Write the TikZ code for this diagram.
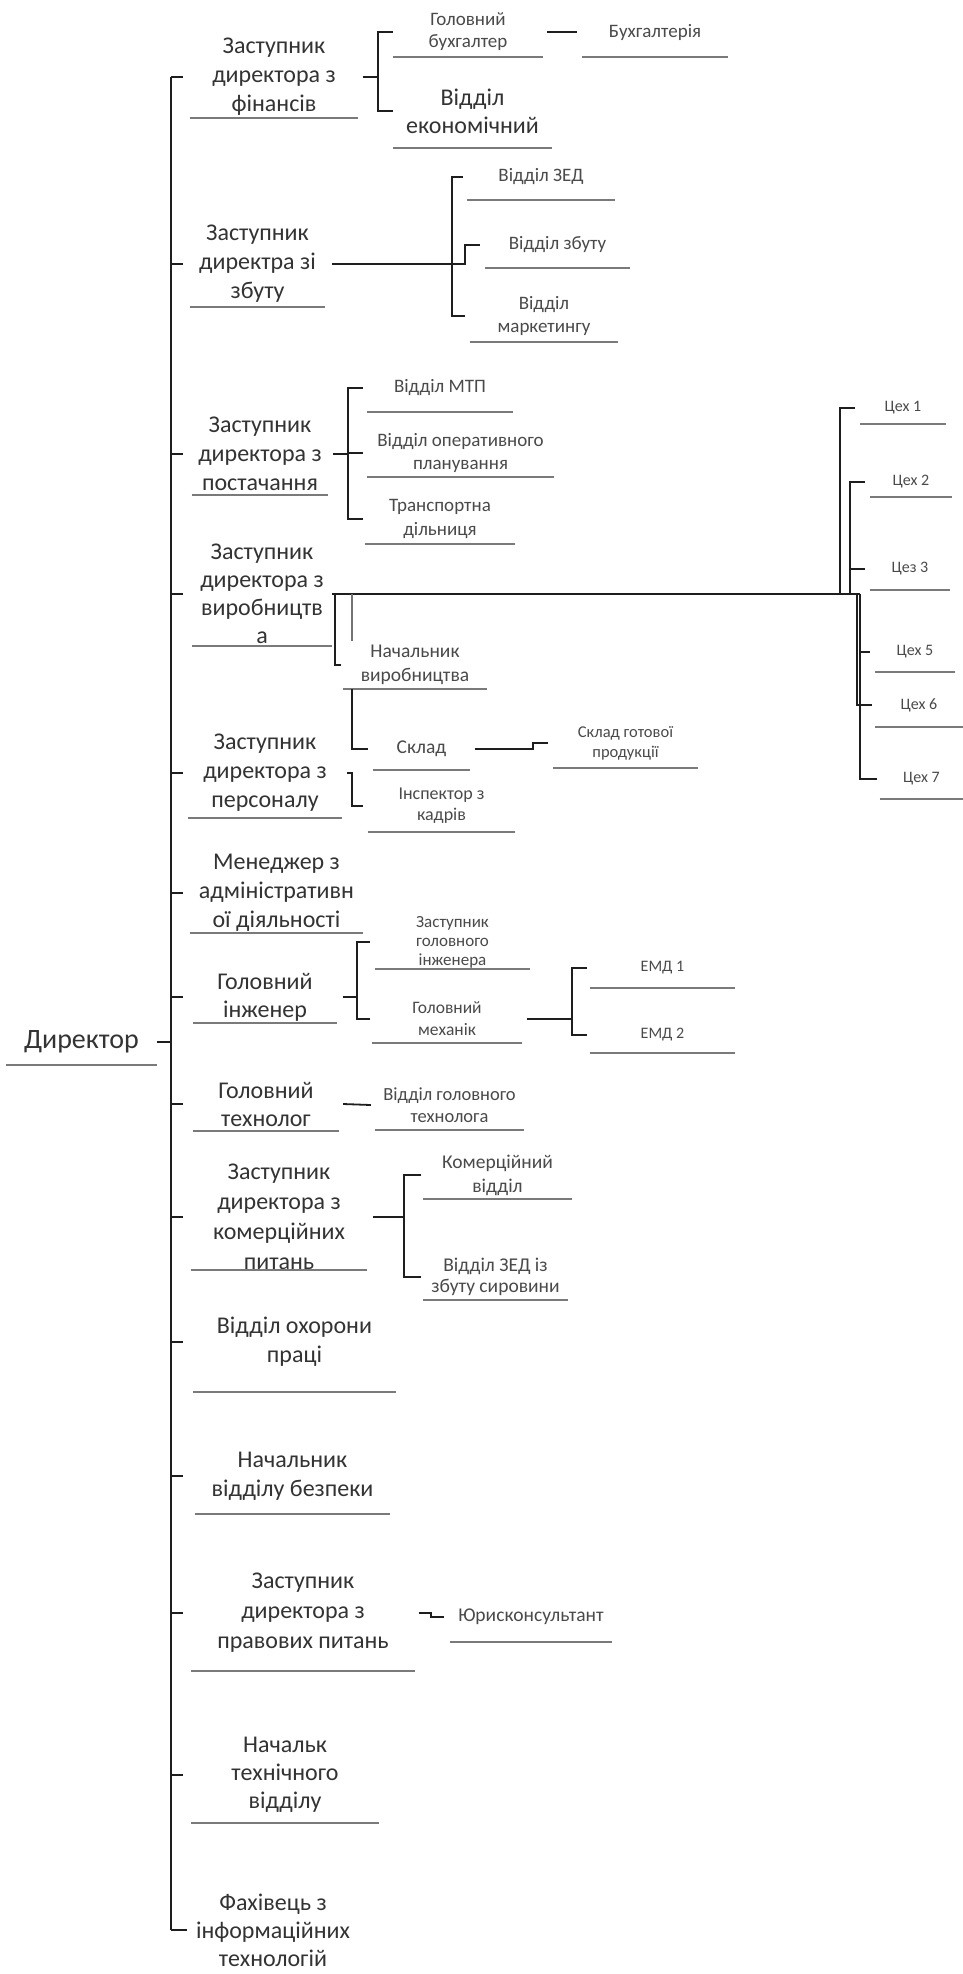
\documentclass[tikz,border=0pt]{standalone}
\usepackage{fontspec}
\setmainfont{Carlito}
\usetikzlibrary{calc}
\definecolor{txt}{HTML}{333333}
\definecolor{txtb}{HTML}{4A4A4A}
\definecolor{lin}{HTML}{1E1E1E}
\definecolor{ulc}{HTML}{7A7A7A}
\newcommand\fsz[2]{\fontsize{#1}{#2}\selectfont}
\newcommand\bxn[7]{\node[bx,font=#6,minimum width=#4,minimum height=#5] (#1) at (#2,#3) {#7};}
\newcommand\bxm[7]{\node[bx,text=txtb,font=#6,minimum width=#4,minimum height=#5] (#1) at (#2,#3) {#7};}
\newcommand\undl[1]{\draw[uline] (#1.south west) -- (#1.south east);}
\tikzset{
  bx/.style={inner sep=0pt, align=center, text=txt},
  conn/.style={draw=lin, line width=1.8pt},
  trunkln/.style={draw=lin, line width=2.2pt},
  busln/.style={draw=lin, line width=2.8pt},
  uline/.style={draw=ulc, line width=1.6pt},
  faint/.style={draw=black!55, line width=1.2pt},
}
\begin{document}
\begin{tikzpicture}[x=1pt,y=-1pt]
\fill[white] (0,0) rectangle (963,1974);
\useasboundingbox (0,0) rectangle (963,1974);

% ---------- level 1 ----------
\bxn{A1}{274}{77}{168}{82}{\fsz{24}{29}}{Заступник\\директора з\\фінансів}
\bxn{A2}{257.5}{264}{135}{86}{\fsz{24}{29}}{Заступник\\директра зі\\збуту}
\bxn{A3}{260}{454}{136}{82}{\fsz{24}{29}}{Заступник\\директора з\\постачання}
\bxn{A4}{262}{594}{140}{104}{\fsz{24}{28}}{Заступник\\директора з\\виробництв\\а}
\bxn{A5}{265}{773}{154}{90}{\fsz{24}{29}}{Заступник\\директора з\\персоналу}
\bxn{A6}{276.5}{893}{173}{80}{\fsz{24}{29}}{Менеджер з\\адміністративн\\ої діяльності}
\bxn{A7}{265}{997}{144}{52}{\fsz{24}{28}}{Головний\\інженер}
\bxn{D}{81.5}{1042}{151}{46}{\fsz{28}{32}\color{black!85}}{Директор}
\bxn{A8}{266}{1104}{146}{54}{\fsz{24}{28}}{Головний\\технолог}
\bxn{A9}{279}{1217}{176}{100}{\fsz{24}{30}}{Заступник\\директора з\\комерційних\\питань}
\bxn{A10}{294.5}{1342}{203}{100}{\fsz{24}{29}}{Відділ охорони\\праці}
\bxn{A11}{292.5}{1476}{195}{76}{\fsz{24}{29}}{Начальник\\відділу безпеки}
\bxn{A12}{303}{1613}{224}{116}{\fsz{24}{30}}{Заступник\\директора з\\правових питань}
\bxn{A13}{285}{1775}{188}{96}{\fsz{24}{28}}{Начальк\\технічного\\відділу}
\bxn{A14}{273}{1930}{172}{100}{\fsz{24}{28}}{Фахівець з\\інформаційних\\технологій}

\foreach \n in {A1,A2,A3,A4,A5,A6,A7,D,A8,A9,A10,A11,A12,A13} {\undl{\n}}

% ---------- level 2 ----------
\bxm{B1}{468}{32}{150}{50}{\fsz{19}{22}}{Головний\\бухгалтер}
\bxm{B2}{655}{32}{146}{50}{\fsz{19}{22}}{Бухгалтерія}
\bxn{B3}{472.5}{111}{159}{74}{\fsz{24}{28}}{Відділ\\економічний}
\bxm{C1}{541}{177}{148}{46}{\fsz{19}{23}}{Відділ ЗЕД}
\bxm{C2}{557.5}{245}{145}{46}{\fsz{19}{23}}{Відділ збуту}
\bxm{C3}{544}{316}{148}{52}{\fsz{19}{23}}{Відділ\\маркетингу}
\bxm{E1}{440}{388}{146}{48}{\fsz{19}{23}}{Відділ МТП}
\bxm{E2}{460.5}{453}{187}{48}{\fsz{19}{23}}{Відділ оперативного\\планування}
\bxm{E3}{440}{519}{150}{50}{\fsz{19}{24}}{Транспортна\\дільниця}
\bxm{F1}{415}{665}{144}{48}{\fsz{19.5}{24}}{Начальник\\виробництва}
\bxm{G1}{421.5}{749}{97}{42}{\fsz{19.5}{24}}{Склад}
\bxm{G2}{625.5}{743}{145}{50}{\fsz{16.5}{20}}{Склад готової\\продукції}
\bxm{H1}{441.5}{806}{147}{52}{\fsz{18}{21}}{Інспектор з\\кадрів}
\bxm{K1}{903}{408}{86}{32}{\fsz{16}{19}}{Цех 1}
\bxm{K2}{911}{482}{82}{30}{\fsz{16}{19}}{Цех 2}
\bxm{K3}{910}{569}{80}{42}{\fsz{16}{19}}{Цез 3}
\bxm{K5}{915}{652}{80}{40}{\fsz{16}{19}}{Цех 5}
\bxm{K6}{919}{705}{88}{44}{\fsz{16}{19}}{Цех 6}
\bxm{K7}{921.5}{779}{83}{40}{\fsz{16}{19}}{Цех 7}
\bxm{I1}{452.5}{942}{155}{54}{\fsz{17}{19}}{Заступник\\головного\\інженера}
\bxm{I2}{447}{1019}{150}{48}{\fsz{17.5}{22}}{Головний\\механік}
\bxm{J1}{662.5}{968}{145}{40}{\fsz{16}{19}}{ЕМД 1}
\bxm{J2}{662.5}{1035}{145}{36}{\fsz{16}{19}}{ЕМД 2}
\bxm{T1}{449.5}{1105}{149}{50}{\fsz{18.5}{22}}{Відділ головного\\технолога}
\bxm{M1}{497.5}{1175}{149}{48}{\fsz{19.5}{24}}{Комерційний\\відділ}
\bxm{M2}{495.5}{1277}{145}{46}{\fsz{19.5}{21}}{Відділ ЗЕД із\\збуту сировини}
\bxm{P1}{531}{1617}{162}{50}{\fsz{19.5}{23}}{Юрисконсультант}

\foreach \n in {B1,B2,B3,C1,C2,C3,E1,E2,E3,F1,G1,G2,H1,K1,K2,K3,K5,K6,K7,I1,I2,J1,J2,T1,M1,M2,P1} {\undl{\n}}

% ---------- trunk ----------
\coordinate (T) at (171,0);
\draw[trunkln] (T |- A1.west) -- (T |- A14.west);
\foreach \n in {A1,A2,A3,A4,A5,A6,A7,A8,A9,A10,A11,A12,A13} {\draw[conn] (T |- \n.west) -- ++(12,0);}
\draw[conn] (T |- A14.west) -- (A14.west);
\draw[conn] (D.east) -- (T |- D.east);

% ---------- finance ----------
\coordinate (fb) at (378,0);
\draw[conn] ([xshift=5]A1.east) -- (fb |- A1.east);
\draw[conn] (B1.west) -- (fb |- B1.west) -- (fb |- B3.west) -- (B3.west);
\draw[conn] ([xshift=4]B1.east) -- ([xshift=-5]B2.west);

% ---------- sales ----------
\coordinate (zb) at (452,0);
\draw[conn] ([xshift=7]A2.east) -- (zb |- A2.east);
\draw[conn] ([xshift=-4]C1.west) -- (zb |- C1.west) -- (zb |- C3.west) -- ([xshift=-5]C3.west);
\draw[conn] (zb |- A2.east) -- ++(13,0) |- ([xshift=-5]C2.west);

% ---------- supply ----------
\coordinate (pb) at (348,0);
\draw[conn] ([xshift=5]A3.east) -- (pb |- A3.east);
\draw[conn] ([xshift=-4]E1.west) -- (pb |- E1.west) -- (pb |- E3.west) -- ([xshift=-2]E3.west);
\draw[conn] (pb |- E2.west) -- ([xshift=-4]E2.west);

% ---------- production ----------
\coordinate (c1x) at (840,0);
\coordinate (c2x) at (850,0);
\coordinate (c6x) at (857,0);
\coordinate (c7x) at (860,0);
\coordinate (x352) at (352,0);
\draw[busln] (A4.east) -- (c7x |- A4.east);
\draw[conn] ([xshift=3]A4.east) |- ([xshift=-2]F1.west);
\draw[faint] (x352 |- A4.east) -- (x352 |- F1.north);
\draw[conn] (x352 |- F1.south) |- ([xshift=-5]G1.west);
\draw[conn] ([xshift=5]G1.east) -- ++(58,0) |- ([xshift=-5]G2.west);
\draw[conn] (c1x |- A4.east) |- ([xshift=-5]K1.west);
\draw[conn] (c2x |- A4.east) |- ([xshift=-5]K2.west);
\draw[conn] (c2x |- K3.west) -- ([xshift=-5]K3.west);
\draw[conn] (c6x |- A4.east) |- ([xshift=-3]K6.west);
\draw[conn] (c7x |- A4.east) |- ([xshift=-3]K7.west);
\draw[conn] (c7x |- K5.west) -- ([xshift=-5]K5.west);

% ---------- personnel ----------
\coordinate (hx) at (352,0);
\draw[conn] ([xshift=5]A5.east) -- (hx |- A5.east) |- ([xshift=-5]H1.west);

% ---------- engineer ----------
\coordinate (ix) at (357,0);
\draw[conn] ([xshift=6]A7.east) -- (ix |- A7.east);
\draw[conn] ([xshift=-5]I1.west) -- (ix |- I1.west) -- (ix |- I2.west) -- ([xshift=-2]I2.west);
\coordinate (ex) at (572,0);
\draw[conn] ([xshift=5]I2.east) -- (ex |- I2.east);
\draw[conn] ([xshift=-3]J1.west) -- (ex |- J1.west) -- (ex |- J2.west) -- ([xshift=-3]J2.west);

% ---------- technologist ----------
\draw[conn] ([xshift=4]A8.east) -- ([xshift=-4]T1.west);

% ---------- commercial ----------
\coordinate (kx) at (404,0);
\draw[conn] ([xshift=6]A9.east) -- (kx |- A9.east);
\draw[conn] ([xshift=-2]M1.west) -- (kx |- M1.west) -- (kx |- M2.west) -- ([xshift=-2]M2.west);

% ---------- legal ----------
\draw[conn] ([xshift=4]A12.east) -- ++(12,0) |- ([xshift=-6]P1.west);
\end{tikzpicture}
\end{document}
